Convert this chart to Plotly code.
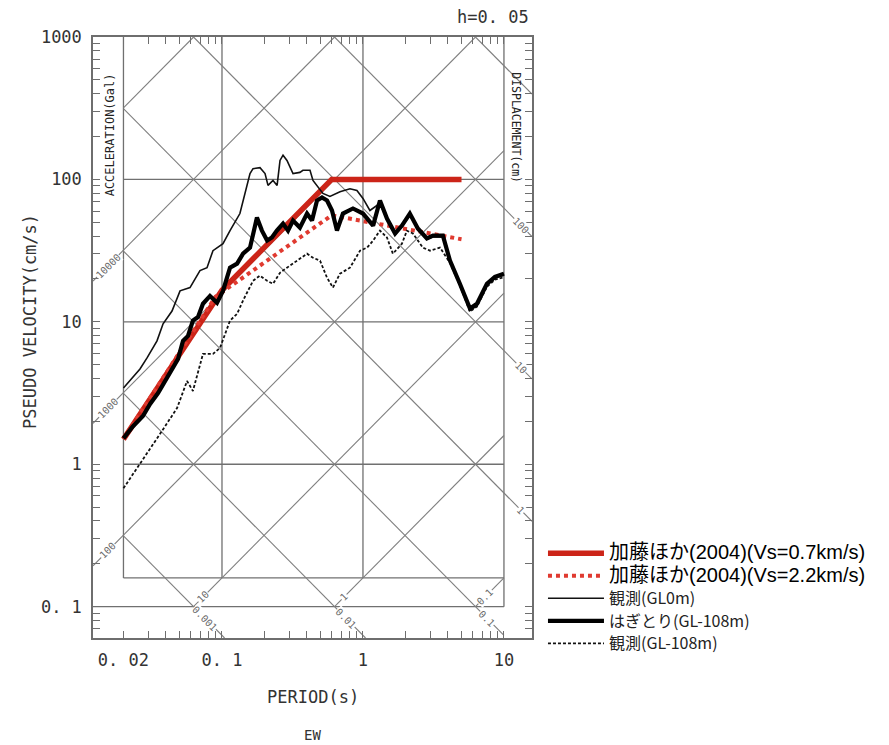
import math
import plotly.graph_objects as go

# ---------------- data (period T [s], pseudo velocity V [cm/s]) ----------------
T_kato07 = [0.02, 0.1, 0.6, 5.0]
V_kato07 = [1.5, 16.7, 100, 100]

T_kato22 = [0.02, 0.09, 0.6, 5.0]
V_kato22 = [1.5, 15.0, 56, 38]

T_gl0 = [0.020, 0.0262, 0.0294, 0.0346, 0.0382, 0.0442, 0.0504, 0.0593, 0.0698, 0.0783,
         0.0863, 0.1016, 0.114, 0.134, 0.158, 0.166, 0.186, 0.202, 0.212, 0.230,
         0.246, 0.258, 0.271, 0.289, 0.319, 0.357, 0.375, 0.421, 0.442, 0.472,
         0.520, 0.583, 0.687, 0.809, 0.906, 1.0, 1.12, 1.32, 1.48, 1.69,
         1.89, 2.15, 2.45, 2.84, 3.14, 3.69, 4.14, 4.87, 5.74, 6.44,
         7.57, 8.63, 10.0]
V_gl0 = [3.43, 4.67, 5.58, 7.35, 9.68, 11.9, 16.5, 17.4, 22.9, 24.0,
         31.6, 35.4, 43.7, 57.6, 110, 119, 121, 110, 90.8, 98.4,
         90.8, 136, 148, 136, 110, 112, 116, 116, 98.4, 90.8,
         79.7, 76, 82, 86, 83.7, 73.5, 60.5, 68, 52, 41,
         46.5, 56, 44.5, 38, 39.5, 39.5, 26.5, 18.2, 12.0, 13.0,
         18.0, 20.2, 21.2]

T_hag = [0.020, 0.0234, 0.0275, 0.0309, 0.0352, 0.0394, 0.0442, 0.0488, 0.0529, 0.0574,
         0.0622, 0.0676, 0.0733, 0.0822, 0.0922, 0.1016, 0.114, 0.128, 0.141, 0.158,
         0.177, 0.192, 0.209, 0.226, 0.245, 0.271, 0.294, 0.319, 0.357, 0.401,
         0.435, 0.472, 0.512, 0.556, 0.603, 0.654, 0.721, 0.849, 1.0, 1.18,
         1.32, 1.48, 1.69, 1.89, 2.15, 2.45, 2.84, 3.14, 3.69, 4.14,
         4.87, 5.74, 6.44, 7.57, 8.63, 10.0]
V_hag = [1.52, 1.85, 2.18, 2.65, 3.16, 3.84, 4.67, 5.49, 7.35, 7.96,
         10.2, 10.8, 13.4, 15.2, 13.6, 16.5, 24.0, 25.6, 30.1, 33.2,
         54.0, 43.7, 37.2, 39.1, 43.7, 49.0, 43.7, 51.4, 45.9, 57.6,
         51.4, 71.1, 74.7, 71.1, 60.5, 43.7, 57.6, 62.5, 57.6, 47.4,
         71.1, 53.1, 41.7, 47.4, 57.6, 45.2, 38.5, 40.3, 40.3, 26.9,
         18.5, 12.4, 13.4, 18.5, 20.7, 21.8]

T_gl108 = [0.020, 0.0262, 0.0363, 0.048, 0.0565, 0.0622, 0.0733, 0.0863, 0.0968, 0.114,
           0.128, 0.141, 0.166, 0.186, 0.209, 0.230, 0.258, 0.289, 0.319, 0.357,
           0.401, 0.442, 0.496, 0.556, 0.612, 0.687, 0.809, 0.953, 1.07, 1.18,
           1.32, 1.48, 1.63, 1.89, 2.05, 2.26, 2.66, 2.99, 3.52, 4.14,
           4.87, 5.74, 6.44, 7.57, 8.63, 10.0]
V_gl108 = [0.678, 1.0, 1.63, 2.48, 3.84, 3.27, 5.95, 5.95, 6.56, 10.2,
           11.4, 14.1, 19.4, 21.1, 19.4, 18.5, 22.1, 24.0, 25.6, 27.8,
           30.1, 28.2, 26.9, 20.4, 17.4, 21.8, 24.0, 31.6, 33.2, 37.2,
           43.7, 39.1, 30.1, 35.4, 43.7, 41.7, 33.2, 31.6, 33.2, 26.0,
           18.0, 11.8, 12.8, 17.6, 19.8, 20.6]

series_names = ["加藤ほか(2004)(Vs=0.7km/s)", "加藤ほか(2004)(Vs=2.2km/s)",
                "観測(GL0m)", "はぎとり(GL-108m)", "観測(GL-108m)"]

# tripartite grid values
acc_values = [0.1, 1, 10, 100, 1000, 1e4, 1e5]          # Gal
disp_values = [0.001, 0.01, 0.1, 1, 10, 100, 1000]       # cm
acc_left_labels = [100, 1000, 10000]
acc_bottom_labels = [10, 1, 0.1]
disp_bottom_labels = [0.001, 0.01, 0.1]
disp_right_labels = [1, 10, 100]
disp_right_ext = [1, 10, 100, 1000]

x_tick_labels = {0.02: "0. 02", 0.1: "0. 1", 1: "1", 10: "10"}
y_tick_labels = {0.1: "0. 1", 1: "1", 10: "10", 100: "100", 1000: "1000"}

# ---------------- geometry ----------------
TW = 2 * math.pi
XR = [-1.915, 1.199]
YR = [-1.22, 3.0]
TL, TR = 10 ** XR[0], 10 ** XR[1]
VB, VT = 10 ** YR[0], 10 ** YR[1]
T0, T1 = 0.02, 10.0
V0, V1 = 1 / TW, 1000.0

GRID = "#707070"
DIAG = "#7e7e7e"
MONO = "DejaVu Sans Mono"


def acc_seg(A, tlo, thi, vlo, vhi):
    lo = max(tlo, TW * vlo / A)
    hi = min(thi, TW * vhi / A)
    if hi <= lo:
        return None
    return [lo, hi], [A * lo / TW, A * hi / TW]


def disp_seg(D, tlo, thi, vlo, vhi):
    lo = max(tlo, TW * D / vhi)
    hi = min(thi, TW * D / vlo)
    if hi <= lo:
        return None
    return [lo, hi], [TW * D / lo, TW * D / hi]


def collect(segs):
    xs, ys = [], []
    for s in segs:
        if s is None:
            continue
        xs += s[0] + [None]
        ys += s[1] + [None]
    return xs, ys


fig = go.Figure()

# straight grid lines
sx, sy = [], []
for v in [1, 10, 100, V0]:
    sx += [T0, T1, None]; sy += [v, v, None]
sx += [TL, T1, None]; sy += [0.1, 0.1, None]
for t in [0.02, 0.1, 1]:
    sx += [t, t, None]; sy += [V0, V1, None]
sx += [T1, T1, None]; sy += [0.1, V1, None]
fig.add_trace(go.Scatter(x=sx, y=sy, mode="lines", line=dict(color=GRID, width=1.3),
                         showlegend=False, hoverinfo="skip"))

# diagonal grid lines
segs = [acc_seg(a, T0, T1, V0, V1) for a in acc_values]
segs += [disp_seg(d, T0, T1, V0, V1) for d in disp_values]
segs += [acc_seg(a, TL, T0, VB, V1) for a in acc_left_labels]
segs += [acc_seg(a, T0, T1, 0.1, V0) for a in acc_bottom_labels]
segs += [disp_seg(d, T0, T1, VB, V0) for d in disp_bottom_labels]
segs += [disp_seg(d, T1, TR, VB, V1) for d in disp_right_ext]
dx, dy = collect(segs)
fig.add_trace(go.Scatter(x=dx, y=dy, mode="lines", line=dict(color=DIAG, width=1.1),
                         showlegend=False, hoverinfo="skip"))

# data series
fig.add_trace(go.Scatter(x=T_kato07, y=V_kato07, mode="lines", name=series_names[0],
                         line=dict(color="#cc2418", width=5.5), legendrank=1))
fig.add_trace(go.Scatter(x=T_kato22, y=V_kato22, mode="lines", name=series_names[1],
                         line=dict(color="#e03a30", width=4, dash="dot"), legendrank=2))
fig.add_trace(go.Scatter(x=T_gl0, y=V_gl0, mode="lines", name=series_names[2],
                         line=dict(color="#111111", width=1.6), legendrank=3))
fig.add_trace(go.Scatter(x=T_gl108, y=V_gl108, mode="lines", name=series_names[4],
                         line=dict(color="#111111", width=1.8, dash="3px,2px"), legendrank=5))
fig.add_trace(go.Scatter(x=T_hag, y=V_hag, mode="lines", name=series_names[3],
                         line=dict(color="#000000", width=4.2), legendrank=4))

# legend text styling per entry
styles = ['<span style="font-family:Liberation Sans, Arial, Noto Sans CJK JP; font-size:20px; color:#000">{}</span>'] * 2 + \
         ['<span style="font-family:Noto Sans CJK JP; font-size:16px; color:#222">{}</span>'] * 3
name_map = {n: s.format(n) for n, s in zip(series_names, styles)}
for tr in fig.data:
    if tr.name in name_map:
        tr.name = name_map[tr.name]

# ---------------- annotations ----------------
ann = []
lab_font = dict(family=MONO, size=10, color="#6a6a6a")


def fmt(v):
    return ("%g" % v)


TLAB_L = 10 ** -1.81
for a in acc_left_labels:
    ann.append(dict(x=math.log10(TLAB_L), y=math.log10(a * TLAB_L / TW), xref="x", yref="y",
                    text=fmt(a), showarrow=False, textangle=-45, font=lab_font,
                    bgcolor="white", borderpad=0))
TLAB_R = 10 ** 1.12
for d in disp_right_labels:
    ann.append(dict(x=math.log10(TLAB_R), y=math.log10(TW * d / TLAB_R), xref="x", yref="y",
                    text=fmt(d), showarrow=False, textangle=45, font=lab_font,
                    bgcolor="white", borderpad=0))
VLAB_D = 10 ** -1.08
for d in disp_bottom_labels:
    ann.append(dict(x=math.log10(TW * d / VLAB_D), y=math.log10(VLAB_D), xref="x", yref="y",
                    text=fmt(d), showarrow=False, textangle=45, font=lab_font,
                    bgcolor="white", borderpad=0))
VLAB_A = 10 ** -0.93
for a in acc_bottom_labels:
    ann.append(dict(x=math.log10(TW * VLAB_A / a), y=math.log10(VLAB_A), xref="x", yref="y",
                    text=fmt(a), showarrow=False, textangle=-45, font=lab_font,
                    bgcolor="white", borderpad=0))

ann.append(dict(x=-1.794, y=2.31, xref="x", yref="y", text="ACCELERATION(Gal)",
                showarrow=False, textangle=-90,
                font=dict(family=MONO, size=12, color="#222")))
ann.append(dict(x=1.085, y=2.36, xref="x", yref="y", text="DISPLACEMENT(cm)",
                showarrow=False, textangle=90,
                font=dict(family=MONO, size=11.5, color="#222")))

ann.append(dict(x=0.5, y=-0.098, xref="paper", yref="paper", text="PERIOD(s)",
                xanchor="center", yanchor="middle",
                showarrow=False, font=dict(family=MONO, size=17, color="#333")))
ann.append(dict(x=0.5, y=-0.161, xref="paper", yref="paper", text="EW",
                xanchor="center", yanchor="middle",
                showarrow=False, font=dict(family=MONO, size=14, color="#333")))
ann.append(dict(x=-0.1435, y=0.526, xref="paper", yref="paper", text="PSEUDO VELOCITY(cm/s)",
                xanchor="center", yanchor="middle",
                showarrow=False, textangle=-90, font=dict(family=MONO, size=17, color="#333")))
ann.append(dict(x=0.998, y=1.033, xref="paper", yref="paper", text="h=0. 05",
                xanchor="right", yanchor="middle",
                showarrow=False, font=dict(family=MONO, size=17, color="#333")))

# ---------------- axes ----------------
def decade_ticks(lo, hi, labels):
    vals, texts = [], []
    for e in range(-3, 4):
        for k in range(1, 10):
            v = k * 10 ** e
            if lo <= math.log10(v) <= hi:
                vals.append(v)
                lab = ""
                for key, t in labels.items():
                    if abs(math.log10(v) - math.log10(key)) < 1e-6:
                        lab = t
                texts.append(lab)
    return vals, texts


xv, xt = decade_ticks(XR[0], XR[1], x_tick_labels)
yv, yt = decade_ticks(YR[0], YR[1], y_tick_labels)

axis_common = dict(type="log", showgrid=False, zeroline=False, showline=True,
                   linecolor="#6e6e6e", linewidth=1.5, mirror="ticks", ticks="inside",
                   ticklen=7, tickwidth=1, tickcolor="#6e6e6e",
                   tickfont=dict(family=MONO, size=17, color="#333"),
                   tickmode="array", ticklabelstandoff=6)

# page body has an 8px margin, so the figure is drawn 8px smaller and offset
fig.update_layout(
    width=881, height=737,
    margin=dict(l=85, r=357, t=29, b=107),
    paper_bgcolor="white", plot_bgcolor="white",
    xaxis=dict(range=XR, tickvals=xv, ticktext=xt, **axis_common),
    yaxis=dict(range=YR, tickvals=yv, ticktext=yt, **axis_common),
    annotations=ann,
    legend=dict(x=1.025, y=0.168, xanchor="left", yanchor="top",
                font=dict(family="Noto Sans CJK JP", size=15, color="#333"),
                bgcolor="rgba(0,0,0,0)", itemwidth=56, tracegroupgap=0),
    hovermode=False,
)

fig.write_html("out.html")
